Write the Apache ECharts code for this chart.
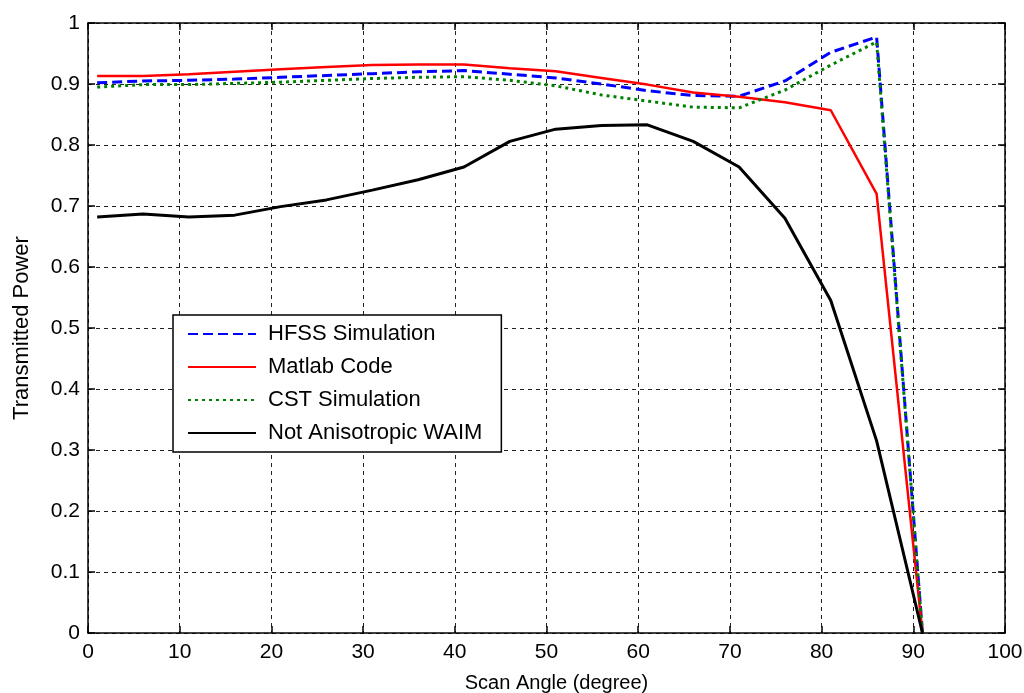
<!DOCTYPE html>
<html>
<head>
<meta charset="utf-8">
<script src="https://cdn.jsdelivr.net/npm/echarts@6/dist/echarts.min.js"></script>
<style>
html,body{margin:0;padding:0;background:#fff;}
#chart{width:1024px;height:693px;}
</style>
</head>
<body>
<div id="chart"></div>
<script>
const scanAngle = [1, 6, 11, 16, 21, 26, 31, 36, 41, 46, 51, 56, 61, 66, 71, 76, 81, 86, 91];
const hfss   = [0.902, 0.905, 0.906, 0.908, 0.911, 0.914, 0.917, 0.920, 0.922, 0.916, 0.910, 0.900, 0.889, 0.881, 0.880, 0.905, 0.952, 0.977, 0.0];
const matlab = [0.913, 0.913, 0.916, 0.920, 0.924, 0.928, 0.931, 0.932, 0.932, 0.926, 0.921, 0.910, 0.899, 0.886, 0.879, 0.870, 0.857, 0.720, 0.0];
const cst    = [0.895, 0.899, 0.899, 0.901, 0.903, 0.906, 0.909, 0.911, 0.912, 0.906, 0.897, 0.882, 0.872, 0.862, 0.861, 0.890, 0.931, 0.969, 0.0];
const notAniso = [0.682, 0.687, 0.682, 0.685, 0.699, 0.710, 0.726, 0.743, 0.764, 0.806, 0.826, 0.832, 0.833, 0.806, 0.764, 0.680, 0.545, 0.315, 0.0];
const seriesNames = ['HFSS Simulation', 'Matlab Code', 'CST Simulation', 'Not Anisotropic WAIM'];
const xTitle = 'Scan Angle (degree)';
const yTitle = 'Transmitted Power';

const FONT = '"Liberation Sans", Arial, sans-serif';
const pair = (xs, ys) => xs.map((x, i) => [x, ys[i]]);

const chart = echarts.init(document.getElementById('chart'), null, {renderer: 'canvas'});
const gridLine = {show: true, lineStyle: {color: '#222', type: [4, 4], width: 1}};
const axisLine = {show: true, onZero: false, lineStyle: {color: '#000', width: 1.5}};
const tick = {show: true, inside: true, length: 7, lineStyle: {color: '#000', width: 1.5}};
const lbl = {color: '#000', fontFamily: FONT, fontSize: 21};

chart.setOption({
  animation: false,
  backgroundColor: '#fff',
  grid: {left: 88, right: 19, top: 23, bottom: 60, containLabel: false, outerBoundsMode: 'none'},
  xAxis: [
    {type: 'value', min: 0, max: 100, interval: 10, position: 'bottom',
     axisLine, axisTick: tick, splitLine: gridLine,
     axisLabel: Object.assign({margin: 9}, lbl),
     name: xTitle, nameLocation: 'middle', nameGap: 40,
     nameTextStyle: {color: '#000', fontFamily: FONT, fontSize: 20, padding: [0, 0, 0, 20]}},
    {type: 'value', min: 0, max: 100, interval: 10, position: 'top',
     axisLine, axisTick: tick, splitLine: {show: false}, axisLabel: {show: false}}
  ],
  yAxis: [
    {type: 'value', min: 0, max: 1, interval: 0.1, position: 'left',
     axisLine, axisTick: tick, splitLine: gridLine,
     axisLabel: Object.assign({margin: 8}, lbl),
     name: yTitle, nameLocation: 'middle', nameGap: 55,
     nameTextStyle: {color: '#000', fontFamily: FONT, fontSize: 22}},
    {type: 'value', min: 0, max: 1, interval: 0.1, position: 'right',
     axisLine, axisTick: tick, splitLine: {show: false}, axisLabel: {show: false}}
  ],
  legend: {
    show: true, orient: 'vertical', left: 173, top: 315,
    backgroundColor: '#fff', borderColor: '#000', borderWidth: 1.5,
    padding: [8, 19, 8, 14], itemGap: 11, itemWidth: 68, itemHeight: 21,
    itemStyle: {opacity: 0},
    textStyle: {color: '#000', fontFamily: FONT, fontSize: 22, padding: [0, 0, 0, 7]},
    data: seriesNames
  },
  series: [
    {name: seriesNames[0], type: 'line', data: pair(scanAngle, hfss), symbol: 'none',
     lineStyle: {color: '#0000ff', width: 3, type: [10, 5]}, itemStyle: {color: '#0000ff'}},
    {name: seriesNames[1], type: 'line', data: pair(scanAngle, matlab), symbol: 'none',
     lineStyle: {color: '#ff0000', width: 2.5, type: 'solid'}, itemStyle: {color: '#ff0000'}},
    {name: seriesNames[2], type: 'line', data: pair(scanAngle, cst), symbol: 'none',
     lineStyle: {color: '#008000', width: 3, type: [3, 4]}, itemStyle: {color: '#008000'}},
    {name: seriesNames[3], type: 'line', data: pair(scanAngle, notAniso), symbol: 'none',
     lineStyle: {color: '#000000', width: 3, type: 'solid'}, itemStyle: {color: '#000000'}}
  ]
});
</script>
</body>
</html>
